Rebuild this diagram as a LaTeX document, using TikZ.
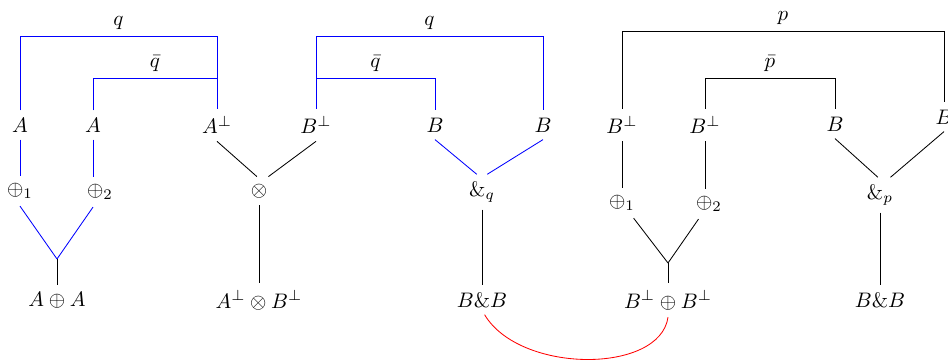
\documentclass[tikz,border=0pt]{standalone}
\begin{document}
\begin{tikzpicture}[x=0.476pt,y=-0.476pt,
  bl/.style={blue},
  blk/.style={black},
  rd/.style={red},
  lab/.style={inner sep=1pt,text=black}]
\useasboundingbox (0,0) rectangle (948,360);
% levels for brackets
\coordinate (yq) at (0,36);
\coordinate (yqb) at (0,78);
\coordinate (yp) at (0,31);
% ---- left group
\node (a1) at (20,125) {$A$};
\node (a2) at (93,125) {$A$};
\node (ap) at (217,125) {$A^\perp$};
\node (o1) at (20,191) {$\oplus_1$};
\node (o2) at (100,192) {$\oplus_2$};
\coordinate (j1) at (57,259);
\node (aa) at (57,300) {$A\oplus A$};
% ---- tensor
\node (t) at (259,191) {$\otimes$};
\node (ab) at (259,300) {$A^\perp\otimes B^\perp$};
% ---- middle group
\node (bp) at (316,125) {$B^\perp$};
\node (b1) at (435,125) {$B$};
\node (b2) at (543,125) {$B$};
\node (wq) at (482,192) {$\&_q$};
\node (bb1) at (482,300) {$B\&B$};
% ---- right group
\node (bp1) at (622,125) {$B^\perp$};
\node (bp2) at (705,125) {$B^\perp$};
\node (b3) at (835,124) {$B$};
\node (b4) at (944,117) {$B$};
\node (r1) at (622,203) {$\oplus_1$};
\node (r2) at (709,204) {$\oplus_2$};
\coordinate (j2) at (668,263);
\node (bpb) at (668,300) {$B^\perp\oplus B^\perp$};
\node (wp) at (880,195) {$\&_p$};
\node (bb2) at (880,300) {$B\&B$};
% ---- brackets left
\draw[bl] (a1.north) -- (a1.north |- yq) -- node[lab,above=2pt] {$q$} (ap.north |- yq) -- (ap.north);
\draw[bl] (a2.north) -- (a2.north |- yqb) -- node[lab,above=2pt] {$\bar q$} (ap.north |- yqb);
% ---- brackets middle
\draw[bl] (bp.north) -- (bp.north |- yq) -- node[lab,above=2pt] {$q$} (b2.north |- yq) -- (b2.north);
\draw[bl] (bp.north |- yqb) -- node[lab,above=2pt] {$\bar q$} (b1.north |- yqb) -- (b1.north);
% ---- brackets right
\draw[blk] (bp1.north) -- (bp1.north |- yp) -- node[lab,above=2pt] {$p$} (b4.north |- yp) -- (b4.north);
\draw[blk] (bp2.north) -- (bp2.north |- yqb) -- node[lab,above=2pt] {$\bar p$} (b3.north |- yqb) -- (b3.north);
% ---- left tree
\draw[bl] (a1) -- (o1);
\draw[bl] (a2.south) -- (a2.south |- o2.north);
\draw[bl] (o1.south) -- (j1);
\draw[bl] (o2.south -| a2) -- (j1);
\draw[blk] (j1) -- (aa);
% ---- tensor tree
\draw[blk] (ap.south) -- ([xshift=-1pt]t.north);
\draw[blk] (bp.south) -- ([xshift=4.5pt]t.north);
\draw[blk] (t) -- (ab);
% ---- with q
\draw[bl] (b1.south) -- ([xshift=-2.5pt]wq.north);
\draw[bl] (b2.south) -- ([xshift=2.5pt]wq.north);
\draw[blk] (wq) -- (bb1);
% ---- right trees
\draw[blk] (bp1) -- (r1);
\draw[blk] (bp2.south) -- (bp2.south |- r2.north);
\draw[blk] (r1) -- (j2);
\draw[blk] (r2) -- (j2);
\draw[blk] (j2) -- (bpb);
\draw[blk] (b3.south) -- ([xshift=-1pt]wp.north);
\draw[blk] (b4.south) -- ([xshift=5pt]wp.north);
\draw[blk] (wp) -- (bb2);
% ---- cut
\draw[rd] (bb1.-80) .. controls (520,374) and (660,374) .. (bpb.south);
\end{tikzpicture}
\end{document}
